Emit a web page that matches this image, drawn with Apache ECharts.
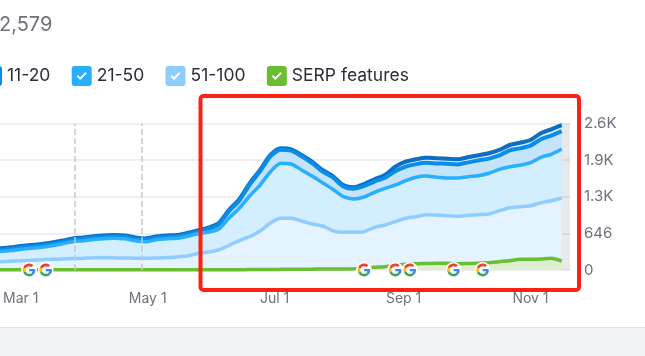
<!DOCTYPE html>
<html>
<head>
<meta charset="utf-8">
<style>
html,body{margin:0;padding:0;background:#fff;}
#chart{width:645px;height:356px;}
</style>
<script src="https://cdn.jsdelivr.net/npm/echarts@6/dist/echarts.min.js"></script>
</head>
<body>
<div id="chart"></div>
<script>
var dates = ['2023-02-19','2023-02-24','2023-03-01','2023-03-06','2023-03-11','2023-03-16','2023-03-21','2023-03-26','2023-03-31',
  '2023-04-05','2023-04-10','2023-04-15','2023-04-20','2023-04-25','2023-04-30',
  '2023-05-05','2023-05-10','2023-05-15','2023-05-20','2023-05-25','2023-05-30',
  '2023-06-04','2023-06-09','2023-06-14','2023-06-19','2023-06-24','2023-06-29',
  '2023-07-04','2023-07-09','2023-07-14','2023-07-19','2023-07-24','2023-07-29',
  '2023-08-03','2023-08-08','2023-08-13','2023-08-18','2023-08-23','2023-08-28',
  '2023-09-02','2023-09-07','2023-09-12','2023-09-17','2023-09-22','2023-09-27',
  '2023-10-02','2023-10-07','2023-10-12','2023-10-17','2023-10-22','2023-10-27',
  '2023-11-01','2023-11-06','2023-11-11','2023-11-16'];

// running totals (the bands sit on top of each other)
var top3 = [388,405,428,446,464,490,525,561,578,599,614,622,614,578,561,596,614,622,658,702,
  751,829,1063,1252,1534,1769,2034,2152,2134,2034,1915,1769,1663,1504,1466,1527,1612,1690,1838,1928,
  1973,2003,1992,1985,1975,2010,2045,2081,2139,2227,2267,2315,2433,2504,2579];
var top4_10 = [383,400,423,441,459,485,520,556,573,594,609,617,609,573,556,591,609,617,653,697,
  746,824,1058,1247,1529,1764,2029,2147,2129,2029,1910,1764,1658,1499,1459,1517,1600,1676,1822,1910,
  1953,1981,1970,1963,1953,1988,2023,2059,2117,2205,2245,2293,2411,2482,2555];
var top11_20 = [358,375,398,416,434,460,495,531,548,569,584,592,584,548,531,566,584,592,628,672,
  726,804,1033,1222,1504,1739,2004,2122,2104,2004,1885,1739,1633,1474,1434,1482,1560,1626,1742,1825,
  1868,1891,1880,1873,1863,1898,1933,1964,2022,2110,2145,2193,2306,2372,2450];
var top21_50 = [325,342,365,383,401,427,462,498,515,536,551,559,551,515,498,533,551,559,595,639,
  665,718,912,1088,1305,1499,1734,1882,1870,1764,1658,1540,1424,1293,1252,1288,1371,1441,1499,1575,
  1635,1658,1635,1623,1623,1646,1663,1706,1776,1822,1847,1893,1988,2041,2134];
var top51_100 = [146,155,164,173,180,189,194,201,208,215,219,215,212,206,206,212,219,231,247,290,
  318,353,432,520,587,688,829,912,912,864,811,776,693,665,665,676,753,794,852,912,
  940,975,970,958,947,965,975,988,1046,1099,1117,1134,1187,1222,1270];
var serpFeatures = [3,3,3,3,3,3,3,3,3,3,3,3,3,3,3,3,3,3,3,3,4,4,5,6,7,
  8,10,12,14,14,15,16,17,18,20,25,47,58,88,100,
  111,115,119,118,111,115,119,129,147,164,189,189,195,206,159];

var legendNames = ['11-20','21-50','51-100','SERP features'];
var monthLabels = ['2023-03-01','2023-05-01','2023-07-01','2023-09-01','2023-11-01'];
var noteDates = ['2023-03-27','2023-04-28'];
var googleDates = ['2023-03-05','2023-03-13','2023-08-13','2023-08-28','2023-09-04','2023-09-25','2023-10-09'];
var monthNames = ['Jan','Feb','Mar','Apr','May','Jun','Jul','Aug','Sep','Oct','Nov','Dec'];

var checkIcon = 'path://M3 0H17A3 3 0 0 1 20 3V17A3 3 0 0 1 17 20H3A3 3 0 0 1 0 17V3A3 3 0 0 1 3 0Z'
  + 'M5 10.5L8.5 14L15 7.5L13.6 6.1L8.5 11.2L6.4 9.1Z';

var googleSvg = '<svg xmlns="http://www.w3.org/2000/svg" viewBox="-6 -6 60 60">'
  + '<circle cx="24" cy="24" r="30" fill="#fff"/>'
  + '<path fill="#EA4335" d="M24 9.5c3.54 0 6.71 1.22 9.21 3.6l6.85-6.85C35.9 2.38 30.47 0 24 0 14.62 0 6.51 5.38 2.56 13.22l7.98 6.19C12.43 13.72 17.74 9.5 24 9.5z"/>'
  + '<path fill="#4285F4" d="M46.98 24.55c0-1.57-.15-3.09-.38-4.55H24v9.02h12.94c-.58 2.96-2.26 5.48-4.78 7.18l7.73 6c4.51-4.18 7.09-10.36 7.09-17.65z"/>'
  + '<path fill="#FBBC05" d="M10.53 28.59c-.5-1.45-.78-2.99-.78-4.59s.27-3.14.76-4.59l-7.98-6.19C.92 16.46 0 20.12 0 24c0 3.88.92 7.54 2.56 10.78l7.97-6.19z"/>'
  + '<path fill="#34A853" d="M24 48c6.48 0 11.93-2.13 15.89-5.81l-7.73-6c-2.15 1.45-4.92 2.3-8.16 2.3-6.26 0-11.57-4.22-13.47-9.91l-7.98 6.19C6.51 42.62 14.62 48 24 48z"/>'
  + '</svg>';
var googleIcon = 'image://data:image/svg+xml;charset=utf-8,' + encodeURIComponent(googleSvg);

// time axis breaks on customValues, so the x axis is a value axis of timestamps
function ts(s){
  var p = s.split('-');
  return new Date(+p[0], +p[1] - 1, +p[2]).getTime();
}

function pairs(values){
  return values.map(function(v, i){ return [ts(dates[i]), v]; });
}

function bandSeries(name, values, lineColor, lineWidth, fillColor){
  return {
    name: name,
    type: 'line',
    data: pairs(values),
    showSymbol: false,
    symbol: 'none',
    smooth: 0.25,
    lineStyle: {color: lineColor, width: lineWidth},
    itemStyle: {color: lineColor},
    areaStyle: {color: fillColor, opacity: 1}
  };
}

var serp = bandSeries('SERP features', serpFeatures, '#69bf2f', 3.5, '#deeed3');
serp.clip = false;
serp.markLine = {
  silent: true,
  symbol: 'none',
  label: {show: false},
  lineStyle: {color: '#c8c9cd', type: 'dashed', width: 1.5},
  data: noteDates.map(function(d){ return {xAxis: ts(d)}; })
};
serp.markArea = {
  silent: true,
  itemStyle: {color: 'rgba(60,90,110,0.13)'},
  data: [[{xAxis: ts('2023-11-14')}, {xAxis: ts('2023-11-20')}]]
};
serp.markPoint = {
  silent: true,
  symbol: googleIcon,
  symbolSize: 16,
  label: {show: false},
  data: googleDates.map(function(d){ return {coord: [ts(d), 0]}; })
};

var chart = echarts.init(document.getElementById('chart'));
chart.setOption({
  animation: false,
  title: {
    text: '2,579',
    left: -6,
    top: 10,
    textStyle: {fontFamily: 'Inter', fontSize: 20, fontWeight: 'normal', color: '#6f717c'}
  },
  legend: {
    data: legendNames,
    left: -23,
    top: 61,
    icon: checkIcon,
    itemWidth: 20,
    itemHeight: 20,
    itemGap: 21.3,
    selectedMode: false,
    textStyle: {fontFamily: 'Inter', fontSize: 17.5, color: '#2b2e3a'}
  },
  grid: {left: 0, width: 570, top: 123.5, height: 146.5},
  xAxis: {
    type: 'value',
    min: ts('2023-02-19'),
    max: ts('2023-11-20'),
    axisLine: {show: false},
    axisTick: {show: false},
    splitLine: {show: false},
    axisLabel: {
      customValues: monthLabels.map(ts),
      margin: 22,
      fontFamily: 'Inter',
      fontSize: 14,
      color: '#6f717c',
      hideOverlap: false,
      formatter: function(value){
        var d = new Date(value);
        return monthNames[d.getMonth()] + ' ' + d.getDate();
      }
    }
  },
  yAxis: {
    type: 'value',
    position: 'right',
    min: 0,
    max: 2584,
    interval: 646,
    z: 3,
    axisLine: {show: false},
    axisTick: {show: false},
    splitLine: {lineStyle: {color: 'rgba(70,70,120,0.12)', width: 1.5}},
    axisLabel: {
      margin: 14,
      fontFamily: 'Inter',
      fontSize: 15,
      color: '#6f717c',
      formatter: function(value){
        if (value >= 1000) return (value / 1000).toFixed(1) + 'K';
        return String(value);
      }
    }
  },
  series: [
    bandSeries('1-3', top3, '#f5b83d', 1.5, '#c2e1fa'),
    bandSeries('4-10', top4_10, '#0a6fc8', 4, '#dbeffd'),
    bandSeries('11-20', top11_20, '#0a8ce9', 4, '#c4e4fc'),
    bandSeries('21-50', top21_50, '#2aaeff', 3.5, '#d2eeff'),
    bandSeries('51-100', top51_100, '#8fcdff', 3.5, '#e4f3ff'),
    serp
  ],
  graphic: [
    {type: 'rect', shape: {x: 0, y: 328, width: 645, height: 28}, style: {fill: '#f2f3f7'}},
    {type: 'rect', shape: {x: 0, y: 327, width: 645, height: 1}, style: {fill: '#dfe0e5'}},
    {
      type: 'rect',
      z: 100,
      shape: {x: 200.5, y: 96, width: 378.5, height: 194, r: 3},
      style: {fill: 'none', stroke: '#ff2012', lineWidth: 4}
    }
  ]
});
</script>
</body>
</html>
